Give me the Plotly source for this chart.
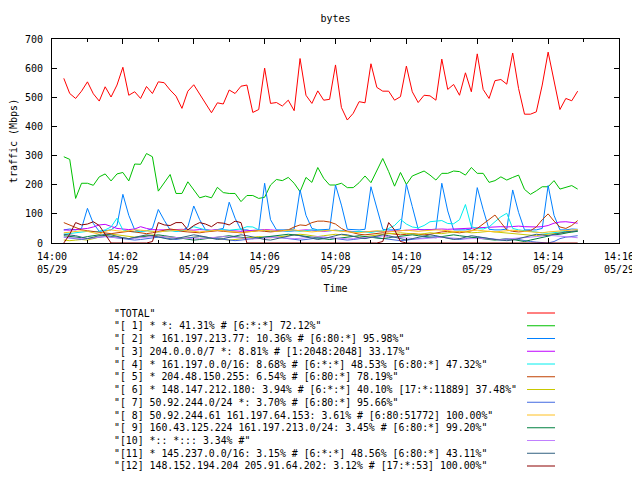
import pandas as pd
import plotly.graph_objects as go

# ---------------- data ----------------
start_time = "2013-05-29 14:00:20"
n_points = 88
sample_seconds = 10

tick_times = ["2013-05-29 14:00", "2013-05-29 14:02", "2013-05-29 14:04", "2013-05-29 14:06",
              "2013-05-29 14:08", "2013-05-29 14:10", "2013-05-29 14:12", "2013-05-29 14:14",
              "2013-05-29 14:16"]
tick_labels = ["14:00<br>05/29", "14:02<br>05/29", "14:04<br>05/29", "14:06<br>05/29",
               "14:08<br>05/29", "14:10<br>05/29", "14:12<br>05/29", "14:14<br>05/29",
               "14:16<br>05/29"]

names = [
    '"TOTAL"',
    '"[ 1] * *: 41.31% # [6:*:*] 72.12%"',
    '"[ 2] * 161.197.213.77: 10.36% # [6:80:*] 95.98%"',
    '"[ 3] 204.0.0.0/7 *: 8.81% # [1:2048:2048] 33.17%"',
    '"[ 4] * 161.197.0.0/16: 8.68% # [6:*:*] 48.53% [6:80:*] 47.32%"',
    '"[ 5] * 204.48.150.255: 6.54% # [6:80:*] 78.19%"',
    '"[ 6] * 148.147.212.180: 3.94% # [6:*:*] 40.10% [17:*:11889] 37.48%"',
    '"[ 7] 50.92.244.0/24 *: 3.70% # [6:80:*] 95.66%"',
    '"[ 8] 50.92.244.61 161.197.64.153: 3.61% # [6:80:51772] 100.00%"',
    '"[ 9] 160.43.125.224 161.197.213.0/24: 3.45% # [6:80:*] 99.20%"',
    '"[10] *:: *::: 3.34% #"',
    '"[11] * 145.237.0.0/16: 3.15% # [6:*:*] 48.56% [6:80:*] 43.11%"',
    '"[12] 148.152.194.204 205.91.64.202: 3.12% # [17:*:53] 100.00%"',
]

colors = ["#ff0000", "#00c000", "#0080ff", "#c000ff", "#00eeee", "#c04000", "#c8c800",
          "#4169e1", "#ffc020", "#008040", "#c080ff", "#306080", "#8b0000"]

total = [565, 513, 496, 521, 553, 512, 487, 536, 501, 542,
         603, 507, 519, 496, 537, 513, 553, 550, 525, 504,
         462, 521, 543, 512, 481, 447, 481, 477, 525, 513,
         538, 542, 448, 458, 600, 479, 482, 470, 490, 454,
         633, 507, 479, 522, 490, 493, 611, 465, 422, 445,
         485, 481, 615, 534, 521, 521, 490, 502, 607, 519,
         482, 507, 505, 490, 631, 527, 544, 507, 584, 519,
         649, 527, 496, 557, 561, 545, 652, 530, 442, 442,
         450, 542, 655, 553, 458, 496, 488, 521]

s1 = [296, 287, 153, 205, 205, 198, 227, 237, 213, 237,
      242, 213, 271, 270, 307, 296, 178, 205, 235, 170,
      170, 210, 182, 155, 161, 155, 191, 173, 170, 170,
      142, 163, 163, 153, 157, 199, 218, 214, 225, 205,
      176, 225, 208, 259, 222, 199, 199, 205, 190, 190,
      207, 230, 207, 250, 290, 245, 195, 242, 201, 230,
      239, 247, 233, 216, 239, 239, 247, 245, 233, 259,
      239, 239, 208, 214, 227, 216, 225, 233, 184, 167,
      179, 193, 193, 214, 185, 190, 197, 185]

s2 = [45, 48, 45, 50, 119, 67, 40, 42, 45, 60,
      167, 95, 45, 40, 42, 50, 115, 78, 45, 40,
      42, 55, 127, 80, 45, 42, 45, 50, 140, 85,
      45, 45, 40, 45, 205, 80, 45, 45, 45, 48,
      182, 95, 50, 45, 47, 47, 199, 130, 47, 45,
      45, 47, 193, 120, 47, 45, 45, 48, 202, 125,
      47, 45, 45, 47, 205, 110, 45, 45, 45, 48,
      190, 115, 47, 45, 45, 48, 182, 105, 45, 45,
      45, 50, 197, 95, 45, 45, 48, 47]

s3 = [45, 44, 46, 48, 50, 55, 62, 64, 58, 50,
      48, 46, 48, 56, 50, 46, 45, 44, 45, 46,
      47, 45, 44, 46, 45, 44, 46, 45, 44, 42,
      40, 42, 44, 45, 46, 45, 44, 42, 40, 42,
      44, 45, 44, 42, 40, 42, 44, 42, 40, 40,
      38, 39, 40, 40, 39, 40, 42, 44, 45, 46,
      46, 45, 46, 48, 48, 47, 48, 50, 50, 52,
      52, 53, 55, 56, 56, 55, 56, 58, 56, 55,
      55, 56, 60, 68, 72, 73, 70, 68]

s4 = [30, 32, 35, 38, 40, 38, 40, 45, 55, 85,
      45, 40, 38, 40, 42, 40, 38, 40, 42, 40,
      42, 45, 56, 50, 45, 42, 45, 46, 44, 45,
      48, 56, 55, 45, 42, 40, 40, 42, 40, 42,
      40, 42, 45, 44, 42, 42, 44, 42, 40, 38,
      40, 38, 36, 40, 42, 50, 60, 81, 65, 55,
      52, 60, 73, 75, 77, 67, 66, 80, 132, 56,
      50, 48, 55, 73, 90, 102, 50, 45, 42, 40,
      38, 35, 33, 35, 38, 40, 38, 40]

s5 = [70, 62, 52, 45, 42, 40, 38, 35, 32, 35,
      38, 40, 38, 35, 32, 35, 40, 45, 48, 45,
      40, 38, 36, 35, 38, 40, 42, 40, 38, 36,
      35, 38, 40, 42, 40, 38, 40, 42, 45, 55,
      62, 60, 70, 75, 75, 72, 65, 50, 40, 35,
      30, 28, 30, 32, 35, 33, 30, 28, 30, 32,
      30, 28, 30, 35, 38, 40, 38, 35, 38, 42,
      50, 65, 80, 96, 70, 45, 40, 38, 40, 42,
      55, 80, 100, 75, 55, 50, 60, 77]

s6 = [10, 8, 10, 12, 10, 15, 20, 25, 30, 28,
      25, 22, 20, 22, 25, 28, 25, 22, 20, 18,
      15, 18, 20, 22, 20, 18, 15, 12, 10, 12,
      15, 18, 20, 22, 20, 18, 20, 22, 25, 28,
      30, 28, 25, 22, 25, 28, 30, 28, 25, 22,
      20, 22, 25, 28, 30, 32, 33, 35, 33, 32,
      30, 32, 35, 33, 32, 35, 38, 40, 38, 35,
      36, 38, 40, 38, 36, 35, 33, 32, 30, 28,
      25, 28, 30, 32, 33, 35, 38, 42]

s7 = [20, 18, 15, 12, 15, 18, 20, 22, 20, 18,
      15, 12, 10, 12, 15, 18, 20, 18, 15, 12,
      15, 18, 20, 22, 20, 18, 15, 12, 10, 8,
      10, 12, 15, 18, 20, 22, 20, 18, 15, 12,
      10, 12, 15, 18, 20, 18, 15, 12, 10, 12,
      15, 18, 20, 18, 15, 12, 10, 8, 10, 12,
      15, 18, 20, 22, 20, 18, 15, 12, 15, 18,
      20, 18, 15, 12, 10, 12, 15, 12, 8, 5,
      3, 2, 0, 5, 15, 20, 22, 25]

s8 = [35, 38, 40, 42, 40, 35, 30, 40, 45, 42,
      40, 42, 45, 44, 42, 40, 38, 40, 42, 44,
      45, 42, 40, 38, 40, 42, 44, 42, 40, 38,
      36, 38, 40, 42, 44, 42, 40, 42, 44, 45,
      42, 40, 38, 40, 42, 44, 42, 40, 38, 36,
      35, 38, 40, 42, 40, 38, 40, 42, 44, 42,
      40, 42, 44, 45, 44, 42, 40, 38, 40, 42,
      44, 42, 40, 38, 40, 42, 44, 42, 40, 38,
      36, 35, 38, 40, 42, 44, 45, 46]

s9 = [25, 22, 20, 18, 22, 25, 28, 25, 22, 20,
      18, 15, 18, 20, 22, 25, 28, 25, 22, 18,
      15, 12, 10, 12, 15, 18, 20, 22, 25, 22,
      20, 18, 15, 18, 20, 22, 25, 28, 30, 28,
      25, 22, 20, 18, 15, 12, 15, 18, 20, 22,
      25, 22, 20, 18, 15, 18, 20, 22, 25, 28,
      25, 22, 20, 18, 22, 25, 28, 25, 22, 20,
      18, 15, 12, 10, 12, 15, 12, 8, 5, 10,
      15, 20, 25, 28, 30, 35, 38, 40]

s10 = [20, 18, 16, 15, 16, 18, 20, 22, 20, 18,
       16, 15, 16, 18, 20, 22, 24, 22, 20, 18,
       16, 15, 14, 15, 16, 18, 20, 22, 20, 18,
       16, 15, 14, 15, 16, 18, 20, 18, 16, 15,
       16, 18, 20, 22, 20, 18, 16, 15, 14, 15,
       16, 18, 20, 22, 24, 22, 20, 18, 16, 15,
       14, 15, 16, 18, 20, 18, 16, 15, 14, 15,
       16, 15, 14, 13, 12, 14, 15, 16, 18, 20,
       22, 24, 26, 25, 24, 22, 20, 18]

s11 = [30, 28, 25, 20, 15, 20, 25, 30, 28, 22,
       18, 15, 20, 25, 28, 25, 20, 15, 12, 15,
       20, 25, 28, 25, 20, 15, 12, 15, 20, 25,
       28, 25, 20, 15, 12, 10, 15, 20, 25, 28,
       25, 20, 15, 12, 15, 20, 25, 30, 28, 22,
       18, 15, 20, 25, 28, 25, 20, 15, 10, 15,
       20, 25, 28, 25, 20, 15, 12, 15, 20, 25,
       22, 18, 15, 12, 10, 8, 10, 15, 20, 25,
       30, 28, 25, 30, 35, 38, 40, 42]

s12 = [0, 30, 70, 62, 65, 73, 60, 30, 0, 0,
       0, 0, 0, 0, 0, 5, 70, 62, 60, 70,
       70, 45, 60, 70, 65, 56, 70, 68, 62, 75,
       70, 0, 0, 0, 0, 0, 0, 0, 0, 0,
       0, 0, 0, 0, 0, 0, 0, 0, 0, 0,
       0, 0, 0, 0, 5, 70, 45, 5, 0, 0,
       0, 0, 0, 0, 0, 0, 0, 0, 0, 0,
       0, 0, 0, 0, 0, 0, 0, 0, 0, 0,
       0, 0, 0, 0, 0, 0, 0, 0]

series = [total, s1, s2, s3, s4, s5, s6, s7, s8, s9, s10, s11, s12]
times = pd.date_range(start=start_time, periods=n_points, freq=f"{sample_seconds}s")

# ---------------- layout geometry (window pixels, page has 8px body margin) ----------------
W, H = 640, 480
OFF = 8
L, R, T, B = 52 - OFF, 619 - OFF, 39 - OFF, 243 - OFF
FONT = "DejaVu Sans Mono"


def paper_x(px):
    return (px - OFF - L) / (R - L)


def paper_y(py):
    return (B - (py - OFF)) / (B - T)


fig = go.Figure()
for name, vals, col in zip(names, series, colors):
    fig.add_trace(go.Scatter(x=times, y=vals, mode="lines", name=name,
                             line=dict(color=col, width=1), showlegend=False))

# gnuplot-style key below the plot: text on the left, sample line on the right
annotations = []
shapes = []
row0, row_step = 313, 12.75
for k, (name, col) in enumerate(zip(names, colors)):
    yy = paper_y(row0 + row_step * k)
    annotations.append(dict(x=paper_x(112), y=yy, xref="paper", yref="paper",
                            text=name, showarrow=False, xanchor="left", yanchor="middle",
                            font=dict(family=FONT, size=9.85, color="black")))
    shapes.append(dict(type="line", xref="paper", yref="paper",
                       x0=paper_x(527), x1=paper_x(555), y0=yy, y1=yy,
                       line=dict(color=col, width=1)))

fig.update_layout(
    width=W, height=H,
    margin=dict(l=L, r=W - R, t=T, b=H - B, pad=0, autoexpand=False),
    paper_bgcolor="white", plot_bgcolor="white",
    font=dict(family=FONT, size=10, color="black"),
    title=dict(text="bytes", x=0.5, xref="paper", xanchor="center",
               y=1 - (18 - OFF) / H, yanchor="middle", font=dict(family=FONT, size=10)),
    annotations=annotations,
    shapes=shapes,
    showlegend=False,
)

fig.update_xaxes(
    type="date", automargin=False,
    range=[tick_times[0], tick_times[-1]],
    tickvals=tick_times, ticktext=tick_labels,
    ticks="inside", ticklen=5, tickcolor="black", tickwidth=1,
    minor=dict(dtick=60000, ticks="inside", ticklen=3, tickcolor="black", tickwidth=1),
    showline=True, linecolor="black", linewidth=1, mirror="ticks",
    showgrid=False, zeroline=False,
    ticklabelstandoff=4,
    title=dict(text="Time", standoff=10, font=dict(family=FONT, size=10)),
    tickfont=dict(family=FONT, size=10),
)
fig.update_yaxes(
    automargin=False,
    range=[0, 700], dtick=100,
    ticks="inside", ticklen=5, tickcolor="black", tickwidth=1,
    showline=True, linecolor="black", linewidth=1, mirror="ticks",
    showgrid=False, zeroline=False,
    ticklabelstandoff=6,
    title=dict(text="traffic (Mbps)", standoff=8, font=dict(family=FONT, size=10)),
    tickfont=dict(family=FONT, size=10),
)

fig.write_html("out.html")
